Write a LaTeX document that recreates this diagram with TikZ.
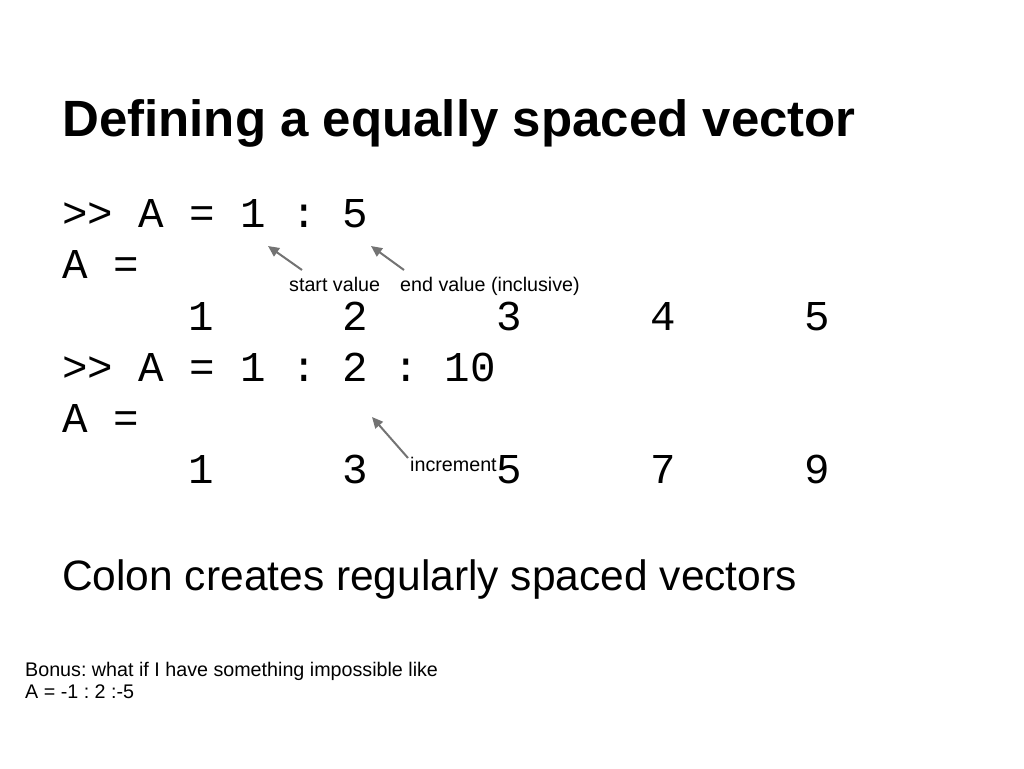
\documentclass[tikz,border=0pt]{standalone}
\usepackage{fontspec}
\setmainfont{Liberation Sans}
\setmonofont{Liberation Mono}
\usetikzlibrary{arrows.meta, positioning}
\frenchspacing

\tikzset{
  title/.style={anchor=base west, inner sep=0pt, font=\fontsize{51}{60}\selectfont\bfseries},
  code/.style={anchor=base west, inner sep=0pt, font=\fontsize{42.5}{50}\selectfont\ttfamily},
  num/.style={anchor=base, inner sep=0pt, font=\fontsize{42.5}{50}\selectfont\ttfamily},
  body/.style={anchor=base west, inner sep=0pt, font=\fontsize{42.5}{50}\selectfont},
  small/.style={anchor=base west, inner sep=0pt, font=\fontsize{19.7}{23}\selectfont},
  pointer/.style={-{Triangle[length=11pt, width=10pt]}, draw=black!55, line width=2pt},
}

\begin{document}
\frenchspacing
\begin{tikzpicture}[x=1pt, y=-1pt]
		\useasboundingbox (0,0) rectangle (1024,768);
		% Title
		\node[title] (head) at (62,136) {Defining a equally spaced vector};
		% Code lines
		\node[code] (cmdA) at (62,227) {>> A = 1 : 5};
		\node[code] (ansA) at (62,278) {A =};
		\foreach \v [count=\i from 0] in {1,2,3,4,5}
			\node[num] (rowA\v) at (201+154*\i,330) {\v};
		\node[code] (cmdB) at (62,381) {>> A = 1 : 2 : 10};
		\node[code] (ansB) at (62,432) {A =};
		\foreach \v [count=\i from 0] in {1,3,5,7,9}
			\node[num] (rowB\v) at (201+154*\i,483) {\v};
		% Labels
		\node[small] (startlab) at (289,291) {start value};
		\node[small] (endlab) at (400,291) {end value (inclusive)};
		\node[small] (inclab) at (410,471) {increment};
		\coordinate (startfrom) at (302,270);
		\coordinate (startto) at (268,246);
		\coordinate (endfrom) at (404,270);
		\coordinate (endto) at (371,246);
		\coordinate (incfrom) at (408,458);
		\coordinate (incto) at (372,417);
		\draw[pointer] (startfrom) -- (startto);
		\draw[pointer] (endfrom) -- (endto);
		\draw[pointer] (incfrom) -- (incto);
		% Summary
		\node[body] (colon) at (62,590) {Colon creates regularly spaced vectors};
		\node[small] (bonus) at (25,676) {Bonus: what if I have something impossible like};
		\node[small] (bonusB) at (25,698) {A = -1 : 2 :-5};
	\end{tikzpicture}
\end{document}
